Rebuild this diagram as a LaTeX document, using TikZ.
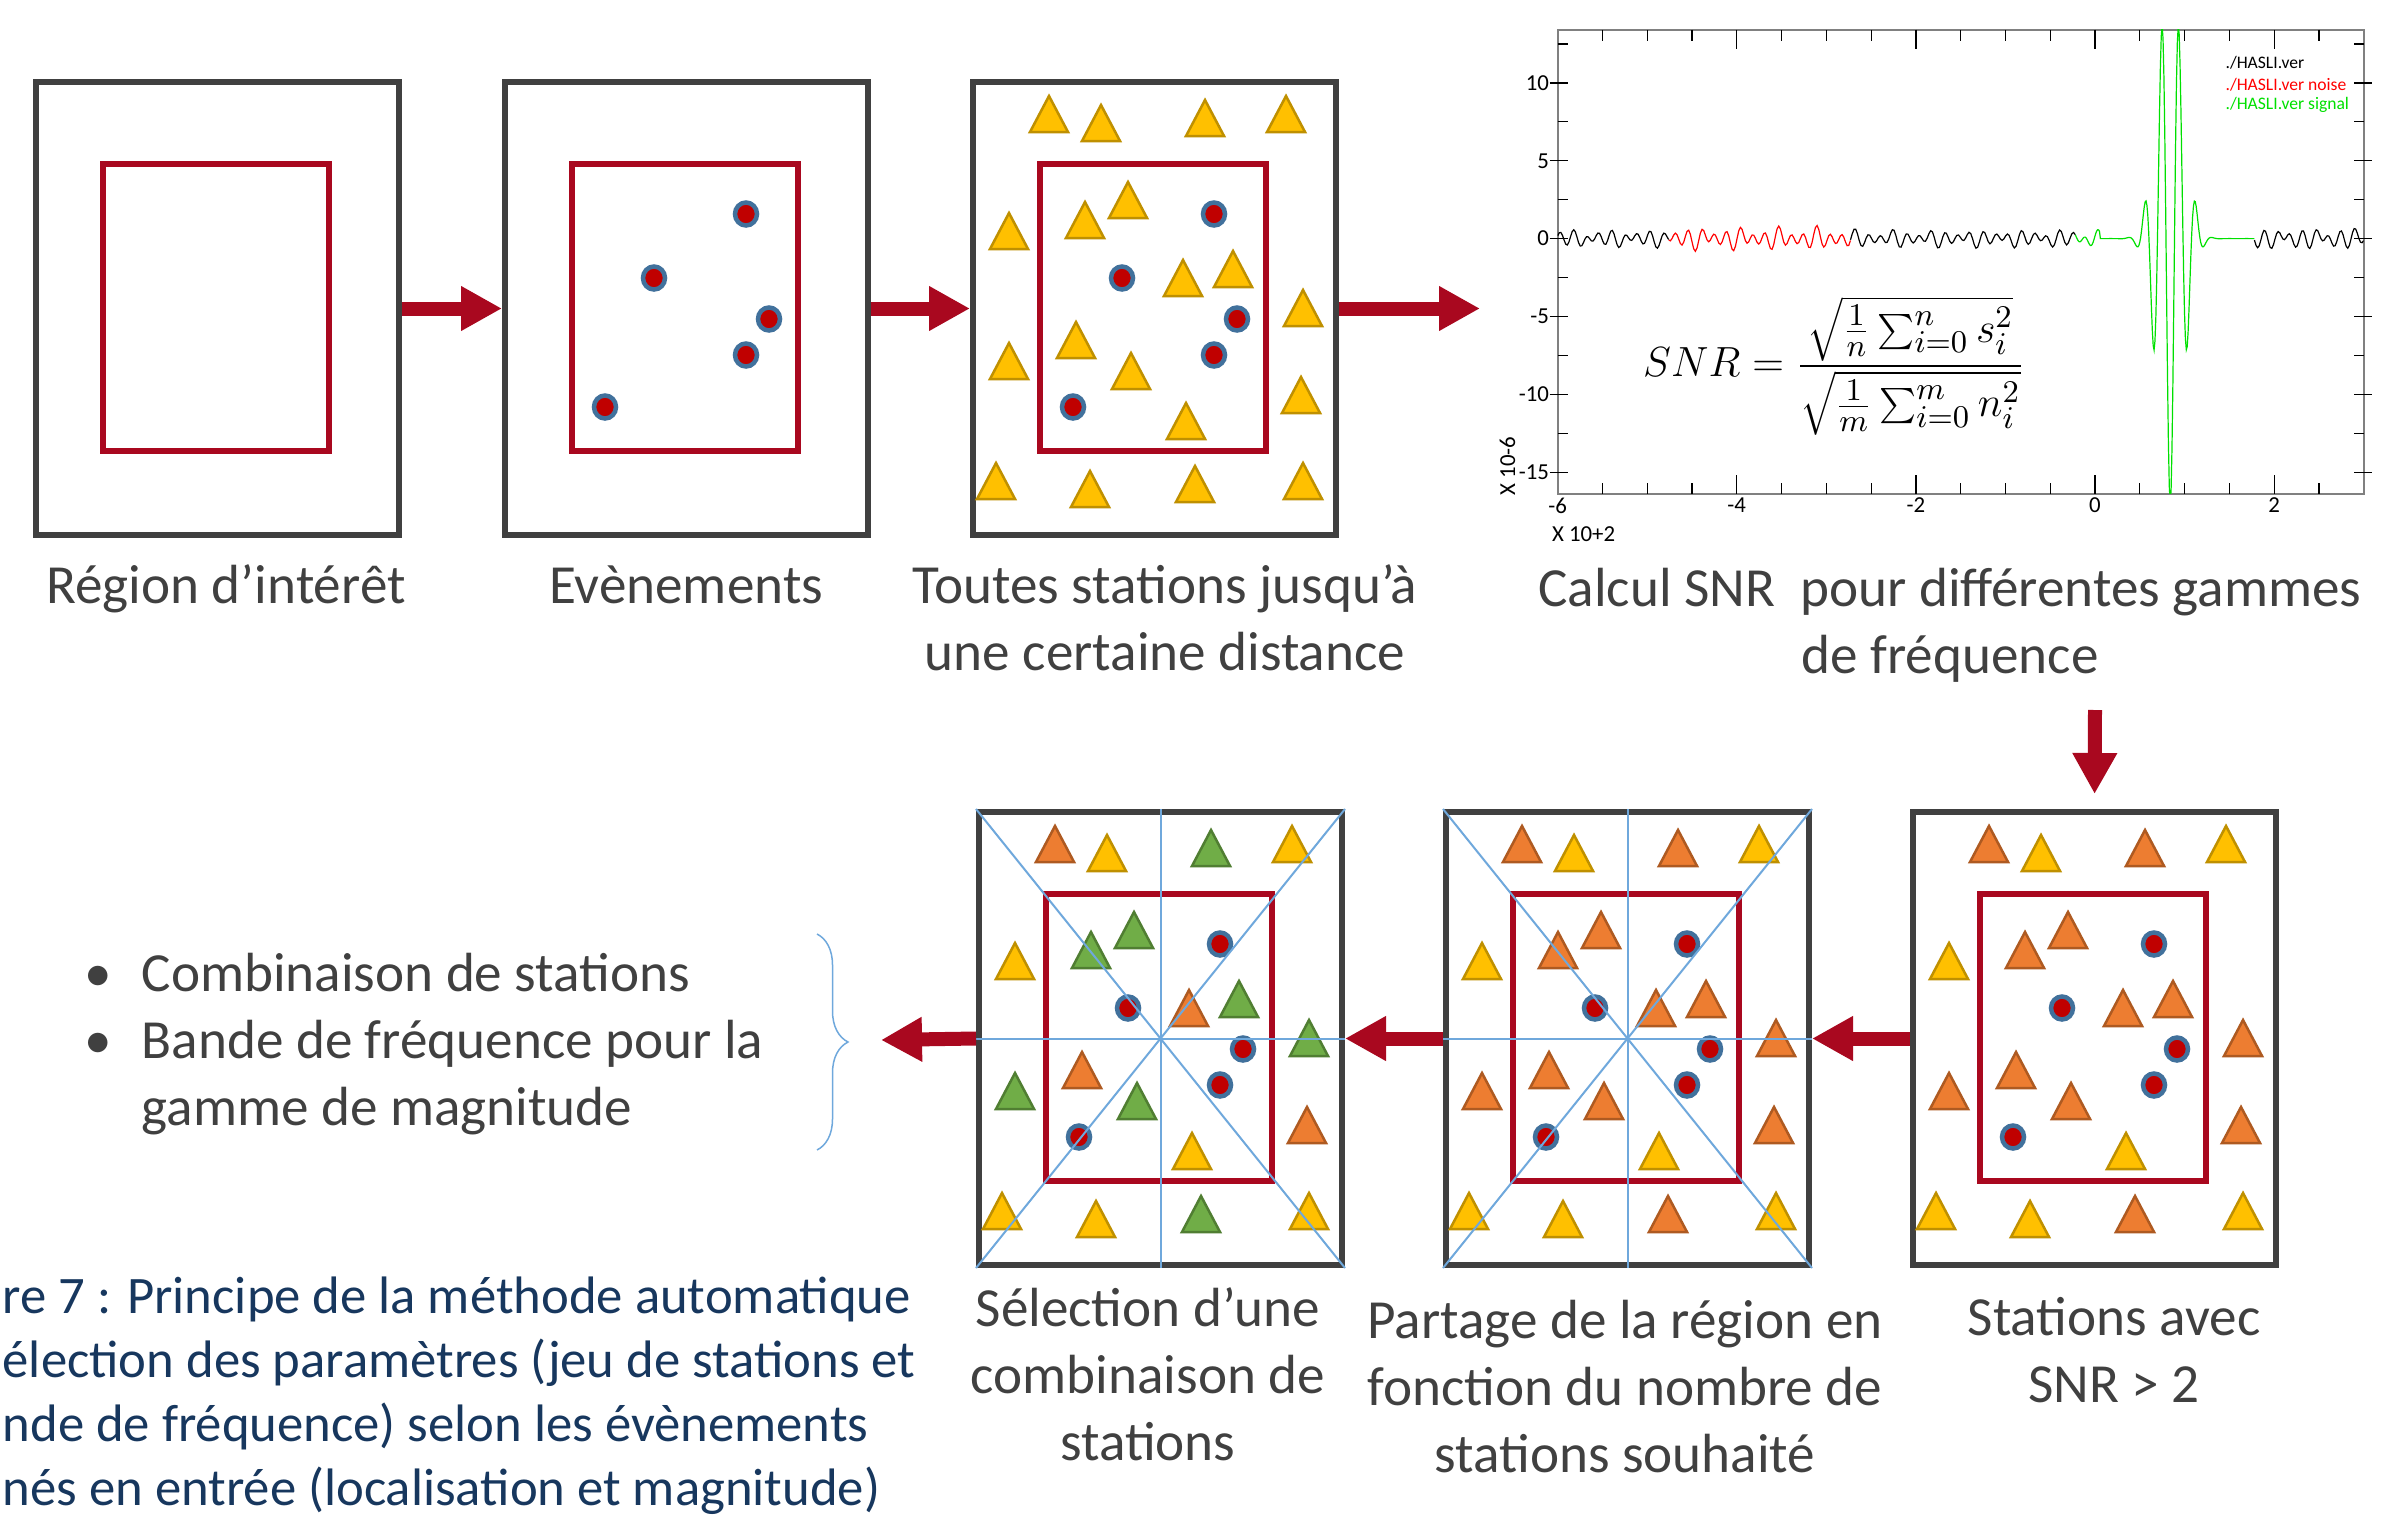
\documentclass[tikz,border=0pt]{standalone}
\usepackage{fontspec}
\setmainfont{Carlito}
\usepackage{tikz}
\usetikzlibrary{arrows.meta, positioning, decorations.pathreplacing}
\definecolor{BoxGrey}{HTML}{404040}
\definecolor{RegionRed}{HTML}{A9081F}
\definecolor{EventRed}{HTML}{C00000}
\definecolor{EventRing}{HTML}{41719C}
\definecolor{StaYellow}{HTML}{FFC000}
\definecolor{StaYellowLine}{HTML}{BF9000}
\definecolor{StaOrange}{HTML}{ED7D31}
\definecolor{StaOrangeLine}{HTML}{AE5A21}
\definecolor{StaGreen}{HTML}{70AD47}
\definecolor{StaGreenLine}{HTML}{507E32}
\definecolor{SplitBlue}{HTML}{6FA8DC}
\definecolor{LabelGrey}{HTML}{404040}
\definecolor{CaptionBlue}{HTML}{17375E}
\definecolor{NoiseRed}{HTML}{FF0000}
\definecolor{SignalGreen}{HTML}{00E000}
\definecolor{FrameGrey}{HTML}{808080}
\tikzset{
    % Panel styles
    panel/.style={
        rectangle,
        draw=BoxGrey,
        fill=white,
        line width=0.06cm,
        minimum width=3.63cm,
        minimum height=4.53cm,
        inner sep=0pt
    },
    region/.style={draw=RegionRed, line width=0.055cm},
    event/.style={fill=EventRed, draw=EventRing, line width=0.045cm},
    yel/.style={fill=StaYellow, draw=StaYellowLine, line width=0.025cm},
    ora/.style={fill=StaOrange, draw=StaOrangeLine, line width=0.025cm},
    gre/.style={fill=StaGreen, draw=StaGreenLine, line width=0.025cm},
    splitline/.style={SplitBlue, line width=0.02cm},
    % Arrow styles
    bigarrow/.style={
        -{Triangle[length=0.41cm,width=0.42cm]},
        line width=0.14cm,
        RegionRed
    },
    bracket/.style={
        decorate,
        decoration={brace, amplitude=0.31cm},
        SplitBlue,
        line width=0.015cm
    },
    % Text styles
    label/.style={
        font=\fontsize{15.7}{19}\selectfont,
        text=LabelGrey,
        align=center,
        inner sep=0pt
    },
    caption/.style={
        font=\fontsize{15}{18.2}\selectfont,
        text=CaptionBlue,
        align=left,
        inner sep=0pt
    },
    % Plot styles
    plotframe/.style={draw=FrameGrey, line width=0.02cm},
    tick/.style={black, line width=0.012cm},
    ticklabel/.style={font=\fontsize{6.5}{7}\selectfont, inner sep=1pt},
    legend/.style={font=\fontsize{5}{6}\selectfont, inner sep=0pt, anchor=west},
    trace/.style={line width=0.012cm},
    formula/.style={font=\fontsize{12.5}{14}\selectfont, inner sep=0pt},
    declare function={
        noise(\x)=0.35*sin(2520*\x)+0.2*sin(1730*\x+60)+0.1*sin(900*\x);
        wavelet(\x)=-17*exp(-1*((\x-0.84)/0.2)*((\x-0.84)/0.2))*cos(1894.7*(\x-0.84));
    }
}

% layout shared by all panels (offsets from the north west corner)
\newcommand{\stationlist}{0.79/-0.35, 1.31/-0.44, 2.35/-0.39, 3.16/-0.35, 0.39/-1.52,
    1.58/-1.21, 1.15/-1.41, 2.63/-1.90, 2.13/-1.99, 3.33/-2.29, 1.06/-2.61, 0.39/-2.82,
    1.61/-2.92, 3.31/-3.16, 2.16/-3.42, 0.26/-4.02, 1.20/-4.10, 2.25/-4.05, 3.33/-4.02}
\newcommand{\eventlist}{2.44/-1.35, 1.52/-1.99, 2.67/-2.40, 2.44/-2.76, 1.03/-3.28}

\newcommand{\region}[1]{%
    \draw[region] ([shift={(0.70,-0.85)}]#1.north west) rectangle ([shift={(2.96,-3.72)}]#1.north west);}
\newcommand{\stations}[2]{%
    \begin{scope}[shift={(#1.north west)}]
        \foreach \sx/\sy [count=\k] in \stationlist {
            \pgfmathsetmacro{\kind}{{#2}[\k-1]}
            \filldraw[\kind, shift={(\sx,\sy)}] (-0.19,-0.18) -- (0,0.18) -- (0.19,-0.18) -- cycle;
        }
    \end{scope}}
\newcommand{\events}[1]{%
    \begin{scope}[shift={(#1.north west)}]
        \foreach \ex/\ey in \eventlist {
            \filldraw[event] (\ex,\ey) ellipse [x radius=0.11, y radius=0.115];
        }
    \end{scope}}

\begin{document}
\begin{tikzpicture}
    \useasboundingbox (0,0) rectangle (23.81,-15.27);

    % Top row
    \node[panel] (p1) at (2.175,-3.085) {};
    \node[panel] (p2) at (6.865,-3.085) {};
    \node[panel] (p3) at (11.545,-3.085) {};
    \region{p1}
    \region{p2}
    \events{p2}
    \region{p3}
    \stations{p3}{"yel","yel","yel","yel","yel","yel","yel","yel","yel","yel",
        "yel","yel","yel","yel","yel","yel","yel","yel","yel"}
    \events{p3}

    \node[label, anchor=base] (l1) at (2.26,-6.03) {Région d’intérêt};
    \node[label, anchor=base] (l2) at (6.86,-6.03) {Evènements};
    \node[label, anchor=base] (l3) at (11.65,-6.70) {Toutes stations jusqu’à\\une certaine distance};
    \node[label, anchor=base] (l4) at (19.50,-6.73) {Calcul SNR~ pour différentes gammes\\de fréquence};

    % Bottom row
    \node[panel] (p4) at (11.605,-10.385) {};
    \node[panel] (p5) at (16.275,-10.385) {};
    \node[panel] (p6) at (20.945,-10.385) {};
    \region{p4}
    \stations{p4}{"ora","yel","gre","yel","yel","gre","gre","gre","ora","gre",
        "ora","gre","gre","ora","yel","yel","yel","gre","yel"}
    \events{p4}
    \region{p5}
    \stations{p5}{"ora","yel","ora","yel","yel","ora","ora","ora","ora","ora",
        "ora","ora","ora","ora","yel","yel","yel","ora","yel"}
    \events{p5}
    \region{p6}
    \stations{p6}{"ora","yel","ora","yel","yel","ora","ora","ora","ora","ora",
        "ora","ora","ora","ora","yel","yel","yel","ora","yel"}
    \events{p6}

    % split lines
    \foreach \p in {p4,p5} {
        \draw[splitline] (\p.north west) -- (\p.south east);
        \draw[splitline] (\p.north east) -- (\p.south west);
        \draw[splitline] (\p.north) -- (\p.south);
        \draw[splitline] (\p.west) -- (\p.east);
    }

    \node[label, anchor=base] (l5) at (11.48,-14.60) {Sélection d’une\\combinaison de\\stations};
    \node[label, anchor=base] (l6) at (16.25,-14.72) {Partage de la région en\\fonction du nombre de\\stations souhaité};
    \node[label, anchor=base] (l7) at (21.14,-14.02) {Stations avec\\SNR > 2};

    % SNR plot
    \begin{scope}[shift={(20.95,-2.386)}, x=0.8956cm, y=0.1557cm]
        \draw[plotframe] (-6,-16.4) rectangle (3,13.4);
        \foreach \t in {-5.5,-5,...,2.5} {
            \draw[tick] (\t,-16.4) -- ++(0,0.11cm);
            \draw[tick] (\t,13.4) -- ++(0,-0.11cm);
        }
        \foreach \t in {-4,-2,0,2} {
            \draw[tick] (\t,-16.4) -- ++(0,0.19cm);
            \draw[tick] (\t,13.4) -- ++(0,-0.19cm);
        }
        \foreach \t in {-12.5,-7.5,-2.5,2.5,7.5,12.5} {
            \draw[tick] (-6,\t) -- ++(0.1cm,0);
            \draw[tick] (3,\t) -- ++(-0.1cm,0);
        }
        \foreach \t in {-15,-10,...,10} {
            \draw[tick] (-6,\t) ++(-0.08cm,0) -- ++(0.18cm,0);
            \draw[tick] (3,\t) ++(0.08cm,0) -- ++(-0.18cm,0);
        }
        \foreach \t [count=\i] in {-6,-4,-2,0,2}
            \node[ticklabel, anchor=north] (xt\i) at (\t,-16.4) {\t};
        \foreach \t [count=\i] in {-15,-10,-5,0,5,10}
            \node[ticklabel, anchor=east] (yt\i) at (-6.05,\t) {\t};
        \node[ticklabel, rotate=90] (yunit) at (-6.56,-14.6) {X 10-6};
        \node[ticklabel] (xunit) at (-5.71,-18.97) {X 10+2};

        % traces
        \begin{scope}
            \clip (-6,-16.4) rectangle (3,13.4);
            \draw[trace, black] plot[domain=-6:-4.76, samples=70] (\x,{noise(\x)});
            \draw[trace, NoiseRed] plot[domain=-4.76:-2.73, samples=110] (\x,{1.3*noise(\x)});
            \draw[trace, black] plot[domain=-2.73:-0.22, samples=130] (\x,{noise(\x)});
            \draw[trace, SignalGreen] plot[domain=-0.22:1.78, samples=201] (\x,{(\x<0.05)*noise(\x)+wavelet(\x)});
            \draw[trace, black] plot[domain=1.78:3, samples=70] (\x,{1.2*noise(\x)});
        \end{scope}

        \node[legend, text=black] (lg1) at (1.45,11.28) {./HASLI.ver};
        \node[legend, text=NoiseRed] (lg2) at (1.45,9.87) {./HASLI.ver noise};
        \node[legend, text=SignalGreen] (lg3) at (1.45,8.58) {./HASLI.ver signal};
    \end{scope}
    \node[formula] (snr) at (18.34,-3.66) {$\displaystyle SNR=\frac{\sqrt{\frac{1}{n}\sum_{i=0}^{n} s_i^2}}{\sqrt{\frac{1}{m}\sum_{i=0}^{m} n_i^2}}$};

    % Result
    \node[label, align=left, anchor=base west] (res) at (0.84,-11.25)
        {\makebox[0.57cm][l]{\textbullet}Combinaison de stations\\
         \makebox[0.57cm][l]{\textbullet}Bande de fréquence pour la\\
         \hspace*{0.57cm}gamme de magnitude};
    \draw[bracket] (8.17,-9.34) -- (8.17,-11.50);

    \node[caption, anchor=base west] (cap) at (0.02,-15.055)
        {re 7 : Principe de la méthode automatique\\
         élection des paramètres (jeu de stations et\\
         nde de fréquence) selon les évènements\\
         nés en entrée (localisation et magnitude)};

    % Arrows
    \coordinate (snrin) at (14.80,-3.085);
    \coordinate (snrout) at (20.95,-7.10);
    \coordinate (resin) at (8.81,-10.40);
    \draw[bigarrow] (p1.east) -- (p2.west);
    \draw[bigarrow] (p2.east) -- (p3.west);
    \draw[bigarrow] (p3.east) -- (snrin);
    \draw[bigarrow, shorten >=0.15cm] (snrout) -- (p6.north);
    \draw[bigarrow] (p6.west) -- (p5.east);
    \draw[bigarrow] (p5.west) -- (p4.east);
    \draw[bigarrow] (p4.west) -- (resin);
\end{tikzpicture}
\end{document}
